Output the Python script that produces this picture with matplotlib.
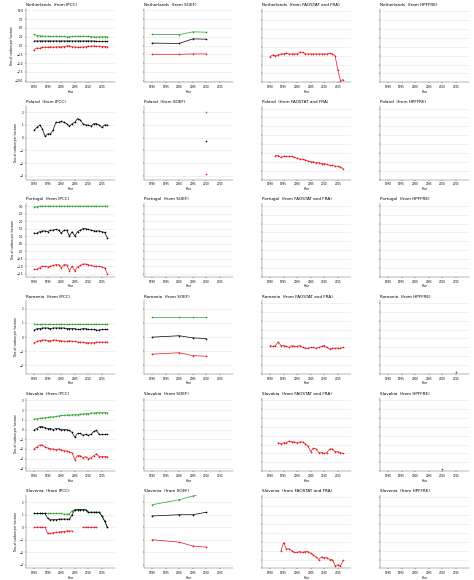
import numpy as np
import matplotlib
matplotlib.use("Agg")
import matplotlib.pyplot as plt

countries = ["Netherlands", "Poland", "Portugal", "Romania", "Slovakia", "Slovenia"]
sources = ["IPCC", "SOEF", "FAOSTAT and FRA", "HPFFRE"]

ipcc_years = list(range(1990, 2018))
soef_years = [1990, 2000, 2005, 2010]

# IPCC: upper (green), mean (black), lower (red); None = missing
ipcc = {
    "Netherlands": (
        [3.2, 2.8, 2.8, 2.7, 2.6, 2.7, 2.6, 2.6, 2.7, 2.6, 2.6, 2.6, 2.5, 2.5, 2.6, 2.6, 2.7, 2.6, 2.7, 2.6, 2.6, 2.5, 2.5, 2.4, 2.5, 2.5, 2.5, 2.5],
        [1.3, 1.3, 1.3, 1.3, 1.3, 1.3, 1.3, 1.3, 1.3, 1.3, 1.3, 1.3, 1.3, 1.3, 1.3, 1.3, 1.3, 1.3, 1.3, 1.3, 1.3, 1.3, 1.3, 1.2, 1.2, 1.2, 1.2, 1.2],
        [-1.2, -0.7, -0.8, -0.5, -0.5, -0.5, -0.4, -0.5, -0.4, -0.4, -0.4, -0.3, -0.1, -0.1, -0.4, -0.4, -0.5, -0.5, -0.4, -0.4, -0.2, -0.2, -0.1, -0.2, -0.2, -0.3, -0.3, -0.3],
    ),
    "Poland": (
        None,
        [0.6, 0.8, 1.0, 0.7, 0.1, 0.3, 0.3, 0.6, 1.2, 1.2, 1.3, 1.2, 1.1, 0.9, 1.1, 1.2, 1.5, 1.4, 1.1, 1.0, 1.0, 0.9, 1.1, 1.1, 1.0, 0.8, 1.0, 1.0],
        None,
    ),
    "Portugal": (
        [2.95, 2.95, 3.0, 3.0, 3.0, 3.0, 3.0, 3.0, 3.0, 3.0, 3.0, 3.0, 3.0, 3.0, 3.0, 3.0, 3.0, 3.0, 3.0, 3.0, 3.0, 3.0, 3.0, 3.0, 3.0, 3.0, 3.0, 3.0],
        [1.2, 1.2, 1.3, 1.35, 1.35, 1.3, 1.4, 1.4, 1.45, 1.4, 1.2, 1.4, 1.4, 1.0, 1.3, 1.0, 1.3, 1.4, 1.5, 1.5, 1.45, 1.4, 1.35, 1.35, 1.35, 1.3, 1.25, 0.9],
        [-1.2, -1.2, -1.1, -1.0, -1.0, -1.05, -1.0, -0.95, -0.9, -0.9, -1.1, -0.9, -0.9, -1.3, -1.0, -1.3, -1.05, -0.95, -0.85, -0.85, -0.9, -0.95, -1.0, -1.0, -1.0, -1.05, -1.1, -1.5],
    ),
    "Romania": (
        [0.9] * 28,
        [0.5, 0.6, 0.6, 0.65, 0.65, 0.65, 0.6, 0.65, 0.65, 0.65, 0.65, 0.65, 0.6, 0.6, 0.6, 0.6, 0.55, 0.55, 0.6, 0.6, 0.55, 0.55, 0.55, 0.5, 0.5, 0.55, 0.55, 0.55],
        [-0.4, -0.3, -0.25, -0.2, -0.2, -0.25, -0.25, -0.2, -0.2, -0.25, -0.25, -0.3, -0.3, -0.25, -0.3, -0.3, -0.35, -0.35, -0.35, -0.4, -0.4, -0.4, -0.4, -0.35, -0.35, -0.35, -0.35, -0.35],
    ),
    "Slovakia": (
        [1.1, 1.1, 1.15, 1.2, 1.2, 1.25, 1.3, 1.3, 1.35, 1.4, 1.45, 1.45, 1.5, 1.5, 1.5, 1.55, 1.55, 1.6, 1.6, 1.65, 1.65, 1.7, 1.7, 1.75, 1.75, 1.75, 1.75, 1.75],
        [0.0, 0.1, 0.3, 0.3, 0.2, 0.1, 0.1, 0.0, 0.1, 0.1, 0.0, 0.0, 0.0, -0.1, -0.3, -0.8, -0.4, -0.4, -0.6, -0.5, -0.6, -0.5, -0.2, -0.1, -0.5, -0.5, -0.5, -0.5],
        [-2.0, -1.8, -1.6, -1.6, -1.8, -1.9, -2.0, -2.0, -2.1, -2.0, -2.1, -2.2, -2.2, -2.3, -2.4, -3.1, -2.7, -2.7, -2.9, -2.8, -3.0, -2.9, -2.7, -2.5, -2.8, -2.8, -2.8, -2.8],
    ),
    "Slovenia": (
        [1.1, 1.1, 1.1, 1.1, 1.1, 1.1, 1.1, 1.1, 1.1, 1.1, 1.1, 1.05, 1.05, 1.05, 1.3, 1.4, 1.4, 1.4, 1.4, 1.4, 1.2, 1.2, 1.2, 1.2, 1.2, 0.9, 0.5, 0.0],
        [1.1, 1.1, 1.1, 1.1, 1.1, 0.7, 0.6, 0.6, 0.6, 0.65, 0.65, 0.65, 0.65, 0.65, 1.0, 1.4, 1.4, 1.4, 1.4, 1.4, 1.2, 1.2, 1.2, 1.2, 1.2, 0.9, 0.5, 0.0],
        [0.0, 0.0, 0.0, 0.0, 0.0, -0.5, -0.5, -0.45, -0.4, -0.4, -0.35, -0.35, -0.3, -0.3, -0.3, None, None, None, 0.0, 0.0, 0.0, 0.0, 0.0, 0.0, None, None, None, None],
    ),
}

# SOEF: upper, mean, lower per country (None = no data)
soef = {
    "Netherlands": ([3.2, 3.1, 3.9, 3.8], [0.7, 0.6, 1.9, 1.8], [-2.5, -2.5, -2.4, -2.4]),
    "Poland": ([None, None, None, 2.0], [None, None, None, -0.3], [None, None, None, -2.9]),
    "Portugal": None,
    "Romania": ([1.4, 1.4, 1.4, 1.4], [0.0, 0.1, -0.05, -0.1], [-1.2, -1.1, -1.3, -1.35]),
    "Slovakia": None,
    "Slovenia": ([1.8, 2.2, 2.5, 2.8], [0.9, 1.0, 1.0, 1.2], [-1.0, -1.2, -1.5, -1.6]),
}

# FAOSTAT and FRA (single series, unlabelled axis)
fao_years = {
    "Netherlands": list(range(1990, 2018)),
    "Poland": list(range(1992, 2018)),
    "Portugal": [],
    "Romania": list(range(1990, 2018)),
    "Slovakia": list(range(1993, 2018)),
    "Slovenia": list(range(1994, 2018)),
}
fao = {
    "Netherlands": [2.9, 3.1, 3.0, 3.1, 3.2, 3.2, 3.3, 3.2, 3.2, 3.2, 3.2, 3.4, 3.4, 3.2, 3.2, 3.2, 3.2, 3.2, 3.2, 3.2, 3.2, 3.2, 3.3, 3.2, 3.0, 1.4, 0.2, 0.3],
    "Poland": [2.7, 2.7, 2.5, 2.6, 2.6, 2.6, 2.6, 2.5, 2.4, 2.3, 2.3, 2.2, 2.1, 2.0, 2.0, 1.9, 1.9, 1.8, 1.8, 1.7, 1.6, 1.6, 1.5, 1.5, 1.4, 1.2],
    "Portugal": [],
    "Romania": [3.2, 3.1, 3.2, 3.6, 3.2, 3.2, 3.1, 3.0, 3.2, 3.1, 3.1, 3.2, 3.0, 2.9, 2.9, 3.0, 3.0, 2.9, 3.0, 3.1, 3.2, 3.0, 2.8, 2.9, 2.9, 2.9, 2.9, 3.0],
    "Slovakia": [3.2, 3.1, 3.2, 3.2, 3.4, 3.3, 3.3, 3.2, 3.3, 3.3, 3.1, 2.8, 2.2, 2.6, 2.5, 2.1, 2.1, 2.0, 2.1, 2.5, 2.5, 2.2, 2.2, 2.1, 2.0],
    "Slovenia": [2.0, 2.9, 2.2, 2.2, 2.0, 1.8, 1.8, 1.9, 1.8, 1.9, 1.9, 1.7, 1.5, 1.3, 1.0, 1.3, 1.2, 1.2, 1.0, 1.0, 0.3, 0.4, 0.3, 0.9],
}

# HPFFRE (only single points)
hpffre = {
    "Romania": ([2015], [0.2]),
    "Slovakia": ([2010], [0.2]),
}

# y-axis layout per row (shared by IPCC and SOEF)
row_ylim = {
    "Netherlands": (-10.5, 10.5), "Poland": (-3.3, 2.5), "Portugal": (-1.7, 3.2),
    "Romania": (-2.6, 2.6), "Slovakia": (-4.3, 3.3), "Slovenia": (-3.3, 2.6),
}
row_yticks = {
    "Netherlands": np.arange(-10, 10.1, 2.5), "Poland": np.arange(-3, 2.1, 1),
    "Portugal": np.arange(-1.5, 3.1, 0.5), "Romania": np.arange(-2, 2.1, 1),
    "Slovakia": np.arange(-4, 3.1, 1), "Slovenia": np.arange(-3, 2.1, 1),
}

colors = ["#2ca02c", "black", "#e8141a"]

fig, axes = plt.subplots(6, 4, figsize=(4.74, 5.8), dpi=100)
fig.subplots_adjust(left=0.055, right=0.99, top=0.985, bottom=0.02, wspace=0.32, hspace=0.32)


def style(ax, title, ylabel=False):
    ax.set_title(title, fontsize=3, loc="left", pad=2)
    ax.set_xlim(1987, 2020)
    ax.set_xticks([1990, 1995, 2000, 2005, 2010, 2015])
    ax.tick_params(labelsize=2, length=1, width=0.3, pad=1)
    ax.set_xlabel("Year", fontsize=2, labelpad=0.5)
    for s in ["top", "right"]:
        ax.spines[s].set_visible(False)
    for s in ["left", "bottom"]:
        ax.spines[s].set_linewidth(0.3)
        ax.spines[s].set_color("#555555")
    ax.grid(axis="y", color="#e6e6e6", linewidth=0.4)
    ax.set_axisbelow(True)
    if ylabel:
        ax.set_ylabel("Tons of carbon per hectare", fontsize=2.2, labelpad=1)


def draw(ax, x, y, c, ms=1.2):
    y = [np.nan if v is None else v for v in y]
    ax.plot(x, y, "-o", color=c, lw=0.5, ms=ms, mew=0)


for r, c in enumerate(countries):
    ylim = row_ylim[c]
    # IPCC
    ax = axes[r, 0]
    for series, col in zip(ipcc[c], colors):
        if series is not None:
            draw(ax, ipcc_years, series, col)
    ax.set_ylim(*ylim)
    ax.set_yticks(row_yticks[c])
    style(ax, f"{c}  (from IPCC)", ylabel=True)

    # SOEF
    ax = axes[r, 1]
    if soef[c] is not None:
        for series, col in zip(soef[c], colors):
            draw(ax, soef_years, series, col)
    ax.set_ylim(*ylim)
    ax.set_yticks(row_yticks[c])
    ax.set_yticklabels([])
    style(ax, f"{c}  (from SOEF)")

    # FAOSTAT and FRA
    ax = axes[r, 2]
    if fao[c]:
        draw(ax, fao_years[c], fao[c], colors[2])
    ax.set_ylim(0, 8.3)
    ax.set_yticks(np.arange(0, 8.1, 1))
    ax.set_yticklabels([])
    style(ax, f"{c}  (from FAOSTAT and FRA)")

    # HPFFRE
    ax = axes[r, 3]
    if c in hpffre:
        hx, hy = hpffre[c]
        draw(ax, hx, hy, colors[2])
    ax.set_ylim(0, 8.3)
    ax.set_yticks(np.arange(0, 8.1, 1))
    ax.set_yticklabels([])
    style(ax, f"{c}  (from HPFFRE)")

fig.savefig("out.png", dpi=100)
